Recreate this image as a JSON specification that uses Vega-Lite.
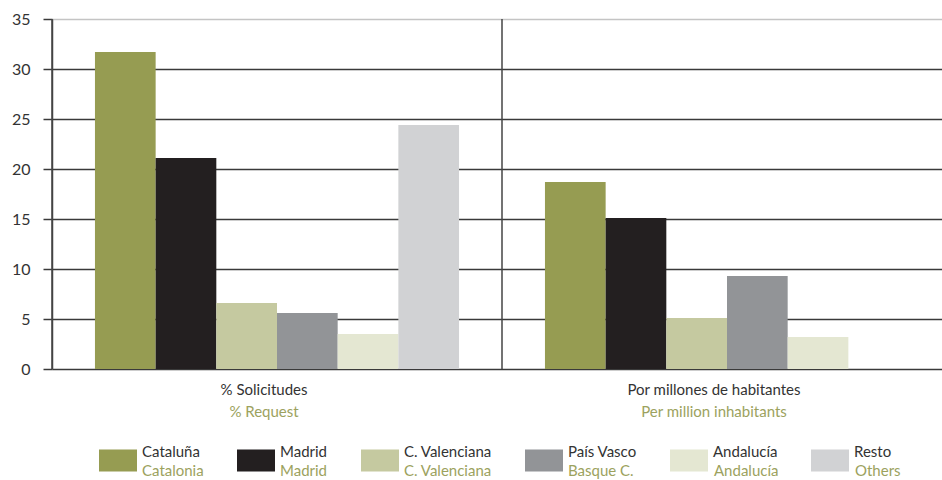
{
  "$schema": "https://vega.github.io/schema/vega-lite/v6.json",
  "width": 900,
  "height": 350,
  "autosize": {"type": "none"},
  "padding": {"left": 52, "top": 19, "right": -10, "bottom": 111},
  "background": "white",
  "config": {"font": "Lato", "view": {"stroke": null}},
  "datasets": {
    "regions": [
      {"group": "% Solicitudes", "region": "Cataluña", "english": "Catalonia", "value": 31.7},
      {"group": "% Solicitudes", "region": "Madrid", "english": "Madrid", "value": 21.1},
      {"group": "% Solicitudes", "region": "C. Valenciana", "english": "C. Valenciana", "value": 6.6},
      {"group": "% Solicitudes", "region": "País Vasco", "english": "Basque C.", "value": 5.6},
      {"group": "% Solicitudes", "region": "Andalucía", "english": "Andalucía", "value": 3.5},
      {"group": "% Solicitudes", "region": "Resto", "english": "Others", "value": 24.4},
      {"group": "Por millones de habitantes", "region": "Cataluña", "english": "Catalonia", "value": 18.7},
      {"group": "Por millones de habitantes", "region": "Madrid", "english": "Madrid", "value": 15.1},
      {"group": "Por millones de habitantes", "region": "C. Valenciana", "english": "C. Valenciana", "value": 5.1},
      {"group": "Por millones de habitantes", "region": "País Vasco", "english": "Basque C.", "value": 9.3},
      {"group": "Por millones de habitantes", "region": "Andalucía", "english": "Andalucía", "value": 3.2}
    ]
  },
  "data": {"name": "regions"},
  "layer": [
    {
      "mark": {"type": "bar"},
      "encoding": {
        "x": {
          "field": "group", "type": "nominal",
          "scale": {"domain": ["% Solicitudes", "Por millones de habitantes"], "paddingInner": 0, "paddingOuter": 0},
          "axis": {"title": null, "orient": "bottom", "ticks": false, "tickSize": 0, "domain": false, "grid": false, "labelAngle": 0, "labelFont": "Lato", "labelFontSize": 15, "labelColor": "#333333", "labelPadding": 13, "labelOffset": -13, "labelLimit": 400}
        },
        "xOffset": {
          "field": "region", "type": "nominal",
          "scale": {"domain": ["Cataluña", "Madrid", "C. Valenciana", "País Vasco", "Andalucía", "Resto"], "paddingInner": 0, "paddingOuter": 0.708}
        },
        "y": {
          "field": "value", "type": "quantitative",
          "scale": {"domain": [0, 35], "nice": false},
          "axis": {
            "title": null, "grid": true, "values": [0, 5, 10, 15, 20, 25, 30, 35],
            "gridColor": {"condition": {"test": "datum.value == 35", "value": "#c4c4c4"}, "value": "#3a3a3a"},
            "gridWidth": 1.5, "tickSize": 9, "tickColor": "#3a3a3a", "tickWidth": 1.5,
            "domainColor": "#444444", "domainWidth": 1.5,
            "labelFont": "Lato", "labelFontSize": 16, "labelColor": "#333333", "labelPadding": 13
          }
        },
        "fill": {
          "field": "region", "type": "nominal",
          "scale": {"domain": ["Cataluña", "Madrid", "C. Valenciana", "País Vasco", "Andalucía", "Resto"], "range": ["#969c52", "#231f20", "#c5c9a0", "#929497", "#e4e7d2", "#d1d2d4"]},
          "legend": {
            "orient": "none", "legendX": 47, "legendY": 422, "direction": "horizontal", "columns": 6,
            "title": null, "padding": 0, "symbolType": "M-1,-0.58H1V0.58H-1Z", "symbolSize": 1444,
            "symbolStrokeWidth": 0, "symbolOpacity": 1, "labelFont": "Lato", "labelFontSize": 15, "labelColor": "#333333",
            "labelBaseline": "bottom", "labelOffset": 5, "columnPadding": 33, "labelLimit": 300,
            "labelExpr": "datum.label == 'Cataluña' ? 'Cataluña\u00a0\u200b' : datum.label"
          }
        }
      }
    },
    {
      "transform": [{"filter": "datum.region == 'Cataluña'"}],
      "mark": {"type": "rule", "color": "#444444", "strokeWidth": 1.5},
      "encoding": {
        "x": {
          "field": "group", "type": "nominal", "bandPosition": 0,
          "axis": {"title": null, "orient": "bottom", "ticks": false, "tickSize": 0, "domain": false, "grid": false, "labelAngle": 0, "labelFont": "Lato", "labelFontSize": 15, "labelColor": "#9ca25e", "labelPadding": 35, "labelOffset": -13, "labelLimit": 400,
            "labelExpr": "datum.value == '% Solicitudes' ? '% Request' : 'Per million inhabitants'"}
        }
      }
    },
    {
      "mark": {"type": "bar", "opacity": 0, "strokeWidth": 0},
      "encoding": {
        "x": {"field": "group", "type": "nominal", "axis": null},
        "xOffset": {"field": "region", "type": "nominal"},
        "y": {"field": "value", "type": "quantitative"},
        "stroke": {
          "field": "english", "type": "nominal",
          "scale": {"domain": ["Catalonia", "Madrid", "C. Valenciana", "Basque C.", "Andalucía", "Others"], "range": ["#ffffff"]},
          "legend": {
            "orient": "none", "legendX": 47, "legendY": 441, "direction": "horizontal", "columns": 6,
            "title": null, "padding": 0, "symbolType": "M-1,-0.58H1V0.58H-1Z", "symbolSize": 1444,
            "symbolStrokeWidth": 0, "symbolOpacity": 0, "labelFont": "Lato", "labelFontSize": 15, "labelColor": "#9ca25e",
            "labelBaseline": "bottom", "labelOffset": 5, "columnPadding": 33, "labelLimit": 300,
            "labelExpr": "datum.label == 'Basque C.' ? 'Basque C.\u00a0\u200b' : datum.label"
          }
        }
      }
    }
  ],
  "resolve": {"axis": {"x": "independent"}}
}
